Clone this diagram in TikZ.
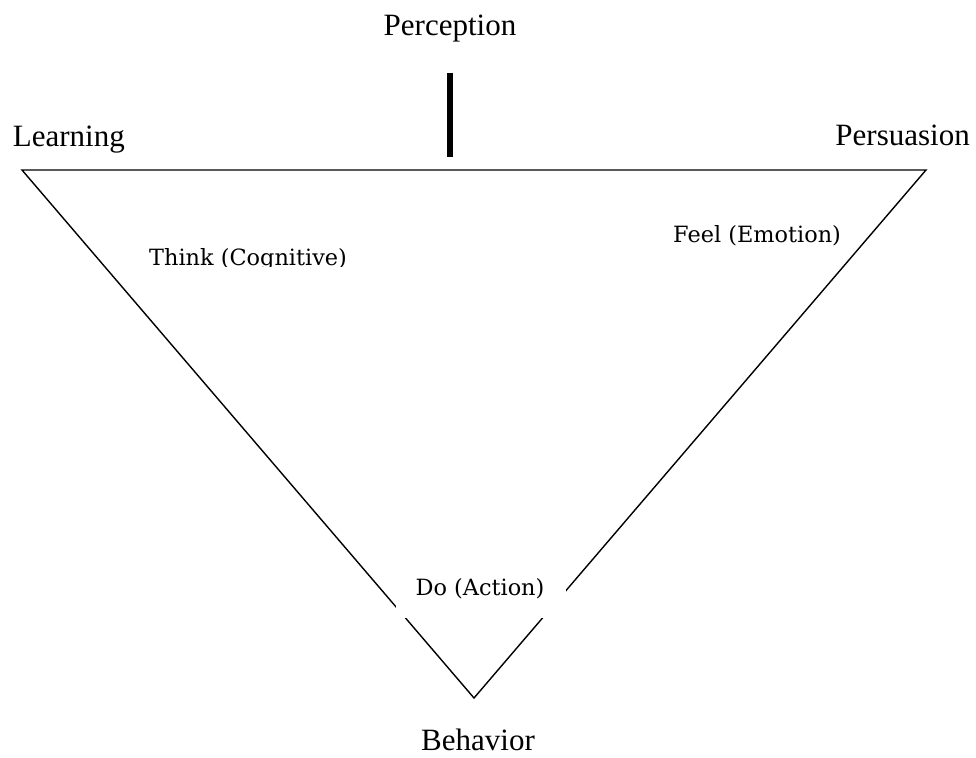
\documentclass[tikz,border=0pt]{standalone}
\usepackage{fontspec}
\setmainfont{Liberation Serif}
\newfontfamily\innerfont{DejaVu Serif}
\begin{document}
\begin{tikzpicture}[x=1pt,y=-1pt,
  outer/.style={font=\fontsize{31}{37}\selectfont, inner sep=0pt},
  inner/.style={font=\innerfont\fontsize{22.4}{27}\selectfont, inner sep=0pt},
  edge/.style={line width=1.4pt, line join=miter}]
\useasboundingbox (0,0) rectangle (976,757);
\coordinate (tl) at (22,170);
\coordinate (tr) at (926,170);
\coordinate (bt) at (474,698);
\coordinate (bartop) at (450.3,73);
\coordinate (barbot) at (450.3,157);
\draw[edge] (tl) -- (tr) -- (bt) -- cycle;
\draw[line width=6pt] (bartop) -- (barbot);
\node[outer, anchor=base] (perception) at (450,36) {Perception};
\node[outer, anchor=base west] (learning) at (12.7,146) {Learning};
\node[outer, anchor=base east] (persuasion) at (970,145) {Persuasion};
\node[outer, anchor=base] (behavior) at (478,750) {Behavior};
\begin{scope}
\clip (100,200) rectangle (400,266);
\node[inner, anchor=base west] (think) at (149,265) {Think (Cognitive)};
\end{scope}
\node[inner, anchor=base west] (feel) at (673,242) {Feel (Emotion)};
\node[fill=white, minimum width=170pt, minimum height=66pt, inner sep=0pt] (dobox) at (481,585) {};
\node[inner, anchor=base] (do) at (480,595) {Do (Action)};
\end{tikzpicture}
\end{document}
